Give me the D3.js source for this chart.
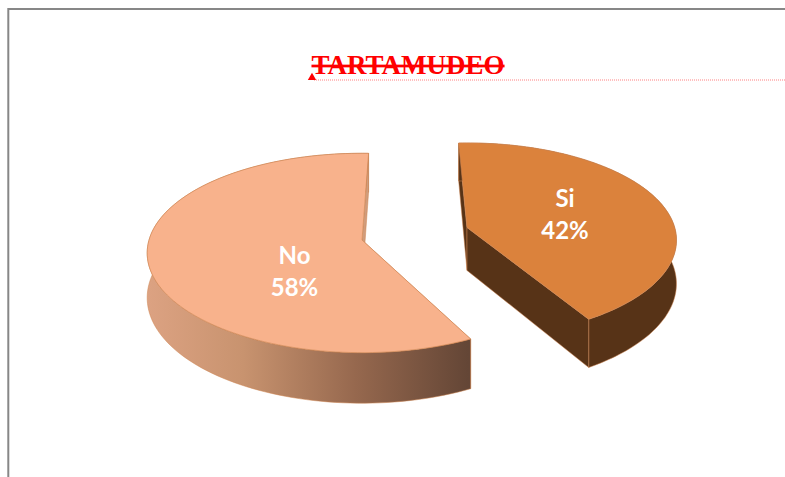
<!DOCTYPE html>
<html><head><meta charset="utf-8">
<script src="https://cdn.jsdelivr.net/npm/d3@7/dist/d3.min.js"></script>
<style>html,body{margin:0;padding:0;background:#fff;overflow:hidden}svg{display:block}</style>
</head><body><svg width="785" height="477"></svg>
<script>
const categories = ["Si", "No"];
const values = [42, 58];
const titleText = "TARTAMUDEO";
const sliceColors = ["#db823c", "#f8b28c"];
const wallColors = ["#573317", "#d19c7b"];

const W = 785, H = 477;
const svg = d3.select("svg");
const defs = svg.append("defs");

// view projection of the tilted, exploded pie
const rx = 213, ry = 98, persp = 0.13, depth = 44;
const centers = [[467, 227.5], [362, 240]];
const sliceScale = [0.975, 1];
const deg = Math.PI / 180;
const sliceTurn = [-2.6 * deg, 2 * deg];
const pie = d3.pie().sort(null).value(d => d);
const arcs = pie(values);

function project(i, a, r, h) {
  const c = centers[i], k = sliceScale[i];
  const X = Math.sin(a) * r, Y = -Math.cos(a) * r;
  const s = k / (1 - persp * Y);
  return [c[0] + rx * X * s, c[1] + ry * Y * s + h * depth * s];
}
const path = d3.line();
function rim(i, a0, a1, h) {
  return d3.range(0, 121).map(n => project(i, a0 + (a1 - a0) * n / 120, 1, h));
}

// frame
svg.append("path").attr("d", d3.line()([[8.3, H], [8.3, 9], [W, 9]]))
  .attr("fill", "none").attr("stroke", "#878787").attr("stroke-width", 2);

// title
svg.append("text").attr("x", 408).attr("y", 74).attr("text-anchor", "middle")
  .attr("font-family", "Liberation Serif").attr("font-weight", "bold")
  .attr("font-size", 27).attr("fill", "#ff0000").attr("text-decoration", "line-through")
  .text(titleText);
svg.append("line").attr("x1", 314).attr("x2", W).attr("y1", 80).attr("y2", 80)
  .attr("stroke", "#ff8080").attr("stroke-width", 1).attr("stroke-dasharray", "1 1");
svg.append("path").attr("d", d3.symbol(d3.symbolTriangle, 30)()).attr("transform", "translate(312,77.5)")
  .attr("fill", "#ff0000");

// gradient of the No outer wall
const grad = defs.append("linearGradient").attr("id", "noWall")
  .attr("gradientUnits", "userSpaceOnUse").attr("x1", 147).attr("x2", 468).attr("y1", 0).attr("y2", 0);
grad.append("stop").attr("offset", 0).attr("stop-color", "#dca282");
grad.append("stop").attr("offset", 0.3).attr("stop-color", "#c8936f");
grad.append("stop").attr("offset", 0.65).attr("stop-color", "#96684e");
grad.append("stop").attr("offset", 1).attr("stop-color", "#644636");

const edge = "#cf8450";
function drawSlice(i, wallFill) {
  const d = arcs[i], a0 = d.startAngle + sliceTurn[i], a1 = d.endAngle + sliceTurn[i];
  const g = svg.append("g");
  const apexT = project(i, 0, 0, 0), apexB = project(i, 0, 0, 1);
  const cutWall = a => g.append("path")
    .attr("d", path([apexT, project(i, a, 1, 0), project(i, a, 1, 1), apexB]) + "Z")
    .attr("fill", wallColors[i]).attr("stroke", edge).attr("stroke-width", 0.5);
  cutWall(a0);
  // outer wall
  g.append("path")
    .attr("d", path(rim(i, a0, a1, 0).concat(rim(i, a0, a1, 1).reverse())) + "Z")
    .attr("fill", wallFill).attr("stroke", edge).attr("stroke-width", 0.5);
  cutWall(a1);
  // top face
  g.append("path")
    .attr("d", path([apexT].concat(rim(i, a0, a1, 0))) + "Z")
    .attr("fill", sliceColors[i]).attr("stroke", edge).attr("stroke-width", 0.6);
}
drawSlice(0, wallColors[0]);
drawSlice(1, "url(#noWall)");

// labels
const labelPos = [[565, 207, 239], [294.5, 264, 296]];
categories.forEach((cat, i) => {
  const t = svg.append("g").attr("font-family", "Lato").attr("font-weight", "bold")
    .attr("font-size", 24).attr("fill", "#fff").attr("text-anchor", "middle");
  t.append("text").attr("x", labelPos[i][0]).attr("y", labelPos[i][1]).text(cat);
  t.append("text").attr("x", labelPos[i][0]).attr("y", labelPos[i][2]).text(values[i] + "%");
});
</script></body></html>
